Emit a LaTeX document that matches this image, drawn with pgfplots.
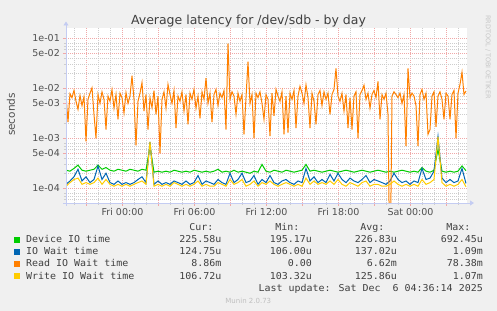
\documentclass[border=0pt]{standalone}
\usepackage{pgfplots}
\pgfplotsset{compat=1.18}
\usepackage{pgfplotstable}
\usepackage{fontspec}
\setmainfont{DejaVu Sans}
\newfontfamily\legfont{DejaVu Sans Mono}[FakeStretch=1.05]
\usetikzlibrary{arrows.meta}

\definecolor{cgreen}{HTML}{00CC00}
\definecolor{cblue}{HTML}{0066B3}
\definecolor{corange}{HTML}{FF8000}
\definecolor{cyellow}{HTML}{FFCC00}
\definecolor{bgcol}{HTML}{F0F0F0}
\definecolor{gridred}{HTML}{F0A8A8}
\definecolor{gridgray}{HTML}{CDCDCD}
\definecolor{axiscol}{HTML}{C4CCF2}
\definecolor{txt}{HTML}{404040}
\definecolor{lbl}{HTML}{505050}

% Read IO wait time (ms), one value every 2 px
\pgfplotstableread[row sep=\\]{v\\
7.5\\2.1\\7.8\\6.5\\9.1\\5.5\\3.8\\7.2\\4.5\\6.8\\0.87\\6.0\\8.0\\10.2\\3.0\\1.0\\7.5\\5.0\\8.5\\6.0\\
1.5\\7.0\\5.5\\9.4\\4.0\\7.5\\2.4\\8.0\\6.5\\3.2\\
8.2\\5.0\\7.0\\17.8\\6.0\\0.72\\5.5\\8.0\\13.0\\3.5\\
7.5\\1.5\\6.5\\4.1\\9.0\\3.0\\7.0\\0.5\\6.0\\8.5\\
4.0\\12.0\\7.5\\5.0\\9.0\\1.6\\7.0\\5.5\\8.5\\3.5\\
7.5\\1.9\\8.0\\6.0\\9.5\\4.0\\7.0\\2.5\\8.5\\6.0\\
16.0\\5.0\\8.0\\2.1\\7.5\\9.5\\4.5\\8.0\\6.5\\9.0\\
1.5\\78.4\\6.0\\8.5\\7.0\\3.0\\8.0\\5.5\\7.5\\1.2\\
6.5\\34.0\\5.0\\7.5\\1.0\\8.0\\6.5\\8.5\\5.0\\2.4\\
7.5\\6.0\\1.1\\8.0\\2.8\\9.5\\7.0\\5.5\\8.5\\1.2\\
7.0\\1.3\\8.0\\6.0\\9.0\\1.6\\7.0\\11.0\\8.0\\5.0\\
11.7\\6.5\\1.6\\8.0\\5.5\\1.9\\7.5\\9.0\\4.5\\8.5\\
6.0\\8.0\\3.0\\7.5\\9.5\\25.0\\7.0\\5.5\\8.0\\3.5\\
7.5\\1.6\\6.5\\1.5\\7.0\\8.5\\1.0\\7.5\\9.0\\11.5\\
6.0\\8.0\\4.0\\7.5\\9.0\\6.5\\13.7\\2.4\\7.5\\6.0\\
8.0\\3.0\\0.001\\7.0\\8.5\\7.5\\6.5\\8.0\\5.0\\7.5\\
0.7\\25.0\\6.5\\8.0\\7.0\\4.5\\0.7\\7.5\\9.5\\6.0\\
8.0\\1.2\\1.5\\7.0\\8.5\\1.7\\7.0\\8.5\\6.0\\2.4\\
8.0\\7.0\\2.4\\7.5\\9.0\\1.0\\8.0\\12.0\\21.0\\7.5\\
8.86\\
}\readtbl

% Device IO time (ms), one value every 4 px
\pgfplotstableread[row sep=\\]{v\\
0.23\\0.22\\0.25\\0.29\\0.23\\0.22\\0.23\\0.24\\0.29\\0.24\\
0.26\\0.23\\0.22\\0.24\\0.23\\0.22\\0.24\\0.23\\0.22\\0.24\\
0.23\\0.69\\0.21\\0.22\\0.21\\0.22\\0.21\\0.23\\0.22\\0.21\\
0.22\\0.21\\0.23\\0.22\\0.21\\0.22\\0.21\\0.22\\0.24\\0.21\\
0.22\\0.21\\0.23\\0.21\\0.22\\0.21\\0.20\\0.22\\0.21\\0.30\\
0.22\\0.21\\0.23\\0.22\\0.21\\0.23\\0.22\\0.21\\0.22\\0.23\\
0.30\\0.22\\0.23\\0.22\\0.21\\0.22\\0.23\\0.22\\0.21\\0.22\\
0.23\\0.22\\0.21\\0.22\\0.23\\0.22\\0.21\\0.22\\0.23\\0.22\\
0.21\\0.22\\0.21\\0.22\\0.23\\0.22\\0.21\\0.22\\0.21\\0.26\\
0.22\\0.21\\0.23\\0.60\\0.22\\0.21\\0.22\\0.21\\0.22\\0.28\\
0.2256\\
}\devtbl

% IO wait time (ms)
\pgfplotstableread[row sep=\\]{v\\
0.12\\0.14\\0.17\\0.24\\0.14\\0.17\\0.13\\0.15\\0.28\\0.15\\
0.20\\0.13\\0.12\\0.14\\0.12\\0.13\\0.12\\0.13\\0.15\\0.17\\
0.13\\0.85\\0.12\\0.14\\0.12\\0.13\\0.12\\0.14\\0.13\\0.12\\
0.14\\0.12\\0.13\\0.18\\0.12\\0.14\\0.13\\0.12\\0.15\\0.13\\
0.12\\0.20\\0.13\\0.15\\0.20\\0.13\\0.14\\0.18\\0.12\\0.15\\
0.13\\0.18\\0.13\\0.12\\0.14\\0.15\\0.13\\0.12\\0.14\\0.13\\
0.25\\0.14\\0.17\\0.13\\0.15\\0.13\\0.19\\0.14\\0.20\\0.15\\
0.13\\0.16\\0.14\\0.13\\0.15\\0.18\\0.13\\0.15\\0.14\\0.13\\
0.12\\0.14\\0.20\\0.15\\0.13\\0.14\\0.12\\0.14\\0.13\\0.25\\
0.15\\0.16\\0.22\\1.09\\0.16\\0.13\\0.15\\0.13\\0.14\\0.25\\
0.125\\
}\waittbl

% Write IO wait time (ms)
\pgfplotstableread[row sep=\\]{v\\
0.11\\0.13\\0.15\\0.16\\0.12\\0.13\\0.12\\0.13\\0.16\\0.12\\
0.15\\0.12\\0.11\\0.12\\0.11\\0.12\\0.11\\0.12\\0.13\\0.14\\
0.12\\0.85\\0.11\\0.12\\0.11\\0.12\\0.11\\0.13\\0.12\\0.11\\
0.12\\0.11\\0.12\\0.14\\0.11\\0.12\\0.11\\0.11\\0.13\\0.12\\
0.11\\0.15\\0.12\\0.13\\0.15\\0.11\\0.12\\0.14\\0.11\\0.13\\
0.12\\0.14\\0.12\\0.11\\0.12\\0.13\\0.12\\0.11\\0.12\\0.11\\
0.16\\0.12\\0.14\\0.12\\0.13\\0.12\\0.14\\0.12\\0.15\\0.12\\
0.11\\0.13\\0.12\\0.11\\0.13\\0.14\\0.11\\0.12\\0.12\\0.11\\
0.11\\0.12\\0.14\\0.12\\0.11\\0.12\\0.11\\0.12\\0.11\\0.15\\
0.12\\0.13\\0.15\\1.07\\0.13\\0.11\\0.12\\0.11\\0.12\\0.15\\
0.107\\
}\writetbl

\newcommand{\lf}{\legfont\fontsize{9.5bp}{11bp}\selectfont}

\begin{document}
\begin{tikzpicture}
\fill[bgcol] (0,0) rectangle (497bp,311bp);
\begin{axis}[
  at={(66bp,108bp)}, anchor=south west,
  scale only axis, width=401bp, height=175bp,
  xmin=0, xmax=401,
  ymode=log, ymin=0.0508, ymax=160.7,
  axis background/.style={fill=white},
  axis line style={draw=none},
  xtick={20.5,56.5,92.5,128.5,164.5,200.5,236.5,272.5,308.5,344.5,380.5},
  xticklabels={,Fri 00:00,,Fri 06:00,,Fri 12:00,,Fri 18:00,,Sat 00:00,},
  minor xtick={8.5,20.5,...,392.5},
  ytick={0.1,0.5,1,5,10,50,100},
  yticklabels={1e-04,5e-04,1e-03,5e-03,1e-02,5e-02,1e-01},
  minor ytick={0.06,0.07,0.08,0.2,0.3,0.4,0.6,0.7,0.8,2,3,4,6,7,8,20,30,40,60,70,80},
  grid=both,
  major grid style={draw=gridred, line width=0.5bp, dash pattern=on 1bp off 1bp},
  minor grid style={draw=gridgray, line width=0.5bp, dash pattern=on 1bp off 1bp},
  xtick pos=left, ytick pos=left,
  tick align=outside,
  major tick length=3bp, minor tick length=2bp,
  major tick style={draw=gridred, line width=0.5bp},
  minor tick style={draw=gridgray, line width=0.5bp},
  tick label style={font=\fontsize{9.5bp}{11bp}\selectfont, text=lbl},
  yticklabel style={inner sep=0pt, anchor=east, xshift=-3bp},
  xticklabel style={inner sep=0pt, anchor=base, yshift=-10bp},
  clip=true,
]
\addplot[cgreen, line width=1bp] table[x expr=\coordindex*4, y=v] {\devtbl};
\addplot[cblue, line width=1bp] table[x expr=\coordindex*4, y=v] {\waittbl};
\addplot[corange, line width=1bp] table[x expr=\coordindex*2, y=v] {\readtbl};
\addplot[cyellow, line width=1bp] table[x expr=\coordindex*4, y=v] {\writetbl};
\end{axis}
% axis lines with arrows
\draw[axiscol, line width=0.9bp, -{Triangle[length=4bp,width=5bp]}] (66bp,105bp) -- (66bp,289.5bp);
\draw[axiscol, line width=0.9bp, -{Triangle[length=4bp,width=5bp]}] (63bp,108bp) -- (474bp,108bp);
% title and labels
\node[anchor=base, inner sep=0pt, text=txt, font=\fontsize{12.5bp}{14bp}\selectfont] at (248.5bp,286.7bp) {Average latency for /dev/sdb - by day};
\node[rotate=90, inner sep=0pt, text=lbl, font=\fontsize{10.5bp}{12bp}\selectfont] at (11bp,196.5bp) {seconds};
\node[rotate=-90, inner sep=0pt, text=black!22, font=\fontsize{6.5bp}{8bp}\selectfont] at (488bp,254bp) {RRDTOOL / TOBI OETIKER};
% legend
\begin{scope}[every node/.style={inner sep=0pt, text=txt, font=\lf}]
\node[anchor=base east] at (213.5bp,80.3bp) {Cur:};
\node[anchor=base east] at (299.5bp,80.3bp) {Min:};
\node[anchor=base east] at (384.5bp,80.3bp) {Avg:};
\node[anchor=base east] at (470.5bp,80.3bp) {Max:};
\fill[cgreen] (14bp,67.7bp) rectangle (20bp,73.7bp);
\node[anchor=base west] at (26bp,68bp) {Device IO time};
\node[anchor=base east] at (221.5bp,68bp) {225.58u};
\node[anchor=base east] at (312bp,68bp) {195.17u};
\node[anchor=base east] at (397bp,68bp) {226.83u};
\node[anchor=base east] at (483bp,68bp) {692.45u};
\fill[cblue] (14bp,55.7bp) rectangle (20bp,61.7bp);
\node[anchor=base west] at (26bp,56bp) {IO Wait time};
\node[anchor=base east] at (221.5bp,56bp) {124.75u};
\node[anchor=base east] at (312bp,56bp) {106.00u};
\node[anchor=base east] at (397bp,56bp) {137.02u};
\node[anchor=base east] at (483bp,56bp) {1.09m};
\fill[corange] (14bp,43.7bp) rectangle (20bp,49.7bp);
\node[anchor=base west] at (26bp,44bp) {Read IO Wait time};
\node[anchor=base east] at (221.5bp,44bp) {8.86m};
\node[anchor=base east] at (312bp,44bp) {0.00};
\node[anchor=base east] at (397bp,44bp) {6.62m};
\node[anchor=base east] at (483bp,44bp) {78.38m};
\fill[cyellow] (14bp,31.7bp) rectangle (20bp,37.7bp);
\node[anchor=base west] at (26bp,32bp) {Write IO Wait time};
\node[anchor=base east] at (221.5bp,32bp) {106.72u};
\node[anchor=base east] at (312bp,32bp) {103.32u};
\node[anchor=base east] at (397bp,32bp) {125.86u};
\node[anchor=base east] at (483bp,32bp) {1.07m};
\node[anchor=base east] at (483bp,20bp) {Last update: Sat Dec\ \ 6 04:36:14 2025};
\end{scope}
\node[anchor=base, inner sep=0pt, text=black!25, font=\fontsize{7bp}{8bp}\selectfont] at (248.3bp,7.8bp) {Munin 2.0.73};
\end{tikzpicture}
\end{document}
